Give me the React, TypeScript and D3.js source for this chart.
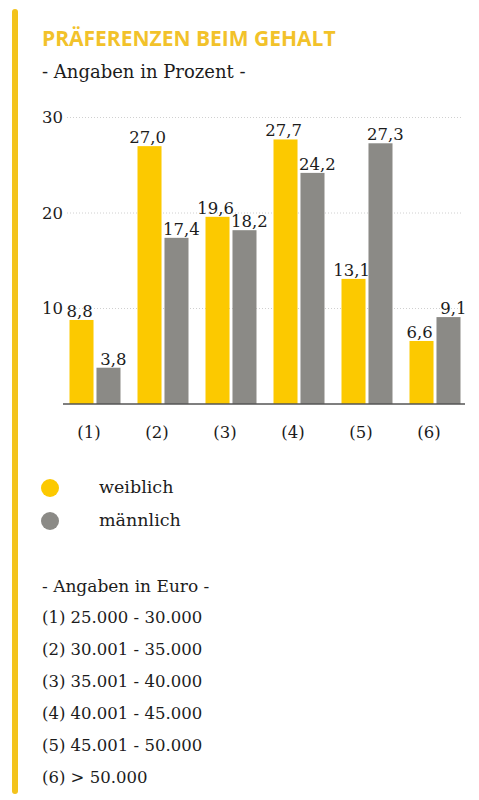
import React from 'react';
import * as d3 from 'd3';

// Daten aus der Grafik
const categories = ['(1)', '(2)', '(3)', '(4)', '(5)', '(6)'];
const weiblich = [8.8, 27.0, 19.6, 27.7, 13.1, 6.6];
const maennlich = [3.8, 17.4, 18.2, 24.2, 27.3, 9.1];
const yTickValues = [10, 20, 30];
const legendLabels = ['weiblich', 'männlich'];
const euroRanges = [
  '(1) 25.000 - 30.000',
  '(2) 30.001 - 35.000',
  '(3) 35.001 - 40.000',
  '(4) 40.001 - 45.000',
  '(5) 45.001 - 50.000',
  '(6) > 50.000',
];

const WIDTH = 479;
const HEIGHT = 800;
const YELLOW = '#fcc900';
const GRAY = '#8b8a86';
const INK = '#1c1c1c';
const SERIF = '"DejaVu Serif", serif';

const de = d3.formatLocale({ decimal: ',', thousands: '.', grouping: [3], currency: ['', '€'] });
const fmt = de.format('.1f');

const App: React.FC = () => {
  const baseY = 404;
  const x0 = d3.scaleBand<string>().domain(categories).range([61, 469]).paddingInner(0.25).paddingOuter(0.125);
  const x1 = d3.scaleBand<string>().domain(['w', 'm']).range([0, x0.bandwidth()]).paddingInner(0.11);
  const y = d3.scaleLinear().domain([0, 30]).range([baseY, baseY - 30 * 9.55]);

  // Beschriftungen leicht auseinander gezogen, damit sie sich nicht berühren
  const series = [
    { key: 'w', values: weiblich, color: YELLOW, dx: -2 },
    { key: 'm', values: maennlich, color: GRAY, dx: 5 },
  ];

  return (
    <svg width={WIDTH} height={HEIGHT} style={{ position: 'absolute', left: 0, top: 0, background: '#fff' }}>
      {/* linker gelber Balken */}
      <rect x={12} y={9} width={6} height={785} rx={3} fill="#f3c31c" />

      <text x={42} y={46} fontFamily='"Open Sans", sans-serif' fontWeight={700} fontSize={21} fill="#f2c22a">
        PRÄFERENZEN BEIM GEHALT
      </text>
      <text x={42} y={78} fontFamily={SERIF} fontSize={18} fill={INK}>
        - Angaben in Prozent -
      </text>

      {/* Gitterlinien */}
      {yTickValues.map(t => (
        <g key={t}>
          <line x1={67} x2={463} y1={y(t)} y2={y(t)} stroke="#d0d0d0" strokeWidth={1} strokeDasharray="1 2" />
          <text x={42} y={y(t)} dy="0.36em" fontFamily={SERIF} fontSize={16.5} fill={INK}>
            {t}
          </text>
        </g>
      ))}

      {/* Balken */}
      {categories.map((c, i) => (
        <g key={c} transform={`translate(${x0(c)},0)`}>
          {series.map(s => {
            const v = s.values[i];
            const bx = x1(s.key)!;
            return (
              <g key={s.key}>
                <rect x={bx} y={y(v)} width={x1.bandwidth()} height={baseY - y(v)} fill={s.color} />
                <text
                  x={bx + x1.bandwidth() / 2 + s.dx}
                  y={y(v) - 3}
                  textAnchor="middle"
                  fontFamily={SERIF}
                  fontSize={16.5}
                  fill={INK}
                >
                  {fmt(v)}
                </text>
              </g>
            );
          })}
          <text
            x={x0.bandwidth() / 2 - 6}
            y={438}
            textAnchor="middle"
            fontFamily={SERIF}
            fontSize={16.5}
            fill={INK}
          >
            {c}
          </text>
        </g>
      ))}

      <line x1={63} x2={465} y1={baseY} y2={baseY} stroke="#555" strokeWidth={1.5} />

      {/* Legende */}
      {legendLabels.map((l, i) => (
        <g key={l} transform={`translate(0,${488 + i * 33})`}>
          <circle cx={50} cy={0} r={9} fill={series[i].color} />
          <text x={99} y={0} dy="0.3em" fontFamily={SERIF} fontSize={17.5} fill={INK}>
            {l}
          </text>
        </g>
      ))}

      <text x={42} y={592} fontFamily={SERIF} fontSize={17} fill={INK}>
        - Angaben in Euro -
      </text>
      {euroRanges.map((r, i) => (
        <text key={r} x={42} y={623 + i * 32} fontFamily={SERIF} fontSize={16.5} fill={INK}>
          {r}
        </text>
      ))}
    </svg>
  );
};

export default App;
